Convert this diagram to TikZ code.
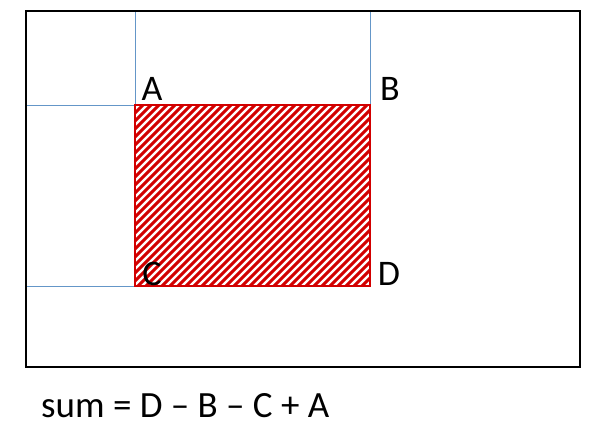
\documentclass[tikz,border=0pt]{standalone}
\usepackage{fontspec}
\setmainfont{Carlito}
\definecolor{gridblue}{RGB}{100,150,200}
\definecolor{hatchred}{RGB}{210,0,0}
\begin{document}
\begin{tikzpicture}[x=1pt,y=-1pt,
  frame/.style={draw=black,line width=2pt},
  guide/.style={draw=gridblue,line width=0.9pt},
  hatchline/.style={draw=hatchred,line width=2.9pt},
  corner/.style={font=\fontsize{36}{36}\selectfont,inner sep=0pt,anchor=base},
  formula/.style={font=\fontsize{37}{37}\selectfont,inner sep=0pt,anchor=base west}]
\useasboundingbox (0,0) rectangle (600,431);
\fill[white] (0,0) rectangle (600,431);
\coordinate (tl) at (135,105);
\coordinate (br) at (370,286);
% guide lines
\draw[guide] (135,11) -- (tl);
\draw[guide] (370,11) -- (370,105);
\draw[guide] (26,105) -- (tl);
\draw[guide] (26,286) -- (135,286);
% hatching
\begin{scope}
\clip (tl) rectangle (br);
\foreach \k in {0,8,...,440} {
  \draw[hatchline] (135+\k-190,295) -- (135+\k,105-0);
}
\end{scope}
\draw[draw=hatchred,line width=2pt] (tl) rectangle (br);
% outer frame
\draw[frame] (26,11) rectangle (580,367);
% labels
\node[corner] (A) at (152,100) {A};
\node[corner] (B) at (390,100) {B};
\node[corner] (C) at (152,285) {C};
\node[corner] (D) at (389,285) {D};
\node[formula] (sum) at (41,417) {sum = D – B – C + A};
\end{tikzpicture}
\end{document}
